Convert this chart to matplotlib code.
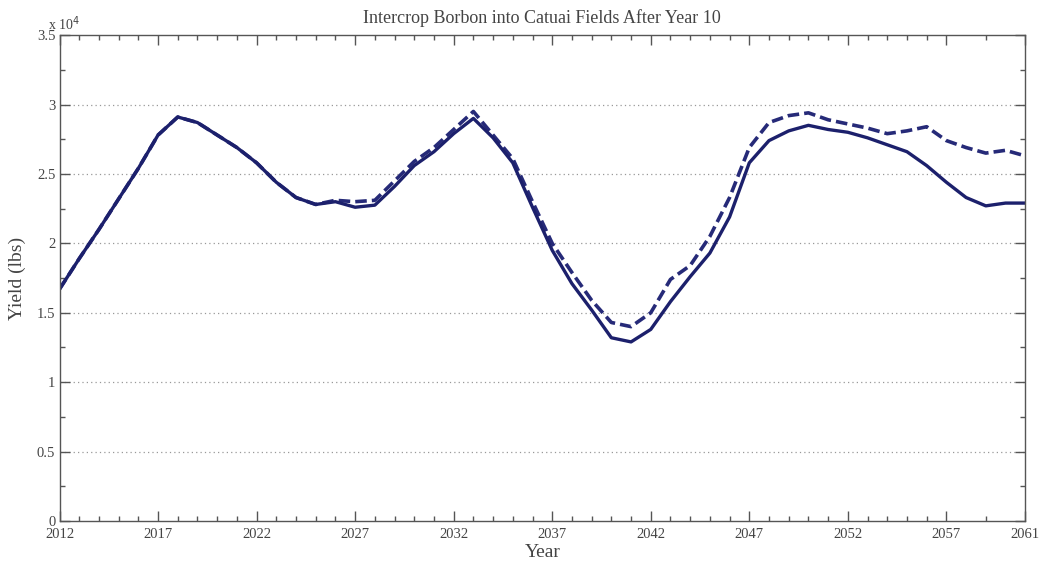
import numpy as np
import matplotlib as mpl
mpl.use("Agg")
import matplotlib.pyplot as plt
from matplotlib.ticker import MultipleLocator, FixedLocator

plt.rcParams['font.family'] = ['Liberation Serif', 'DejaVu Serif']

years = np.arange(2012, 2062)

# yield without intercropping (solid) and with Borbon intercropped after year 10 (dashed)
yield_base = [16.7, 18.9, 21.0, 23.2, 25.4, 27.8, 29.1, 28.7, 27.8, 26.9,
              25.8, 24.4, 23.3, 22.8, 23.0, 22.6, 22.75, 24.1, 25.6, 26.6,
              27.9, 29.0, 27.6, 25.8, 22.6, 19.5, 17.1, 15.2, 13.2, 12.9,
              13.8, 15.8, 17.6, 19.3, 21.9, 25.8, 27.4, 28.1, 28.5, 28.2,
              28.0, 27.6, 27.1, 26.6, 25.6, 24.4, 23.3, 22.7, 22.9, 22.9]
yield_intercrop = [16.7, 18.9, 21.0, 23.2, 25.4, 27.8, 29.1, 28.7, 27.8, 26.9,
                   25.8, 24.4, 23.3, 22.8, 23.1, 23.0, 23.1, 24.5, 25.9, 26.9,
                   28.2, 29.5, 27.8, 26.1, 23.0, 20.0, 17.9, 15.9, 14.3, 14.0,
                   15.0, 17.4, 18.4, 20.5, 23.3, 26.9, 28.7, 29.2, 29.4, 28.9,
                   28.6, 28.3, 27.9, 28.1, 28.4, 27.4, 26.9, 26.5, 26.7, 26.3]
yield_base = np.array(yield_base) * 1000
yield_intercrop = np.array(yield_intercrop) * 1000

xtick_years = [2012, 2017, 2022, 2027, 2032, 2037, 2042, 2047, 2052, 2057, 2061]
xminor_years = [y for y in range(2013, 2057) if (y - 2012) % 5] + [2059]
ytick_vals = [0, 5000, 10000, 15000, 20000, 25000, 30000, 35000]
ytick_labels = ['0', '0.5', '1', '1.5', '2', '2.5', '3', '3.5']

text_col = '#444444'
line_col = '#1c206c'

fig = plt.figure(figsize=(10.44, 5.66), dpi=100)
ax = fig.add_axes([0.057, 0.0795, 0.925, 0.8585])

ax.plot(years, yield_intercrop, '--', color='#262a78', linewidth=2.6, dashes=(3.2, 1.4))
ax.plot(years, yield_base, '-', color=line_col, linewidth=2.4)

ax.set_xlim(2012, 2061)
ax.set_ylim(0, 35000)

ax.xaxis.set_major_locator(FixedLocator(xtick_years))
ax.xaxis.set_minor_locator(FixedLocator(xminor_years))
ax.set_xticklabels([str(y) for y in xtick_years])
ax.set_yticks(ytick_vals)
ax.set_yticklabels(ytick_labels)
ax.yaxis.set_minor_locator(MultipleLocator(2500))

ax.tick_params(which='both', direction='in', top=True, right=True,
               colors='#555555', labelcolor=text_col, labelsize=10.5)
ax.tick_params(axis='x', pad=5)
ax.tick_params(axis='y', pad=3)
ax.tick_params(which='major', length=7, width=1)
ax.tick_params(which='minor', length=3.5, width=1)

for s in ax.spines.values():
    s.set_color('#555555')
    s.set_linewidth(1)

# dotted horizontal grid at the major y ticks
for v in ytick_vals[1:-1]:
    ax.axhline(v, color='#999999', linestyle=(0, (1, 2.5)), linewidth=0.9, zorder=0)

ax.set_xlabel('Year', fontsize=14, color=text_col, labelpad=2)
ax.set_ylabel('Yield (lbs)', fontsize=14, color=text_col, labelpad=8)
ax.set_title('Intercrop Borbon into Catuai Fields After Year 10',
             fontsize=13, color=text_col, pad=9)
ax.text(-0.012, 1.004, r'x 10$^4$', transform=ax.transAxes, fontsize=10,
        color=text_col, ha='left', va='bottom')

fig.savefig('out.png', dpi=100)
